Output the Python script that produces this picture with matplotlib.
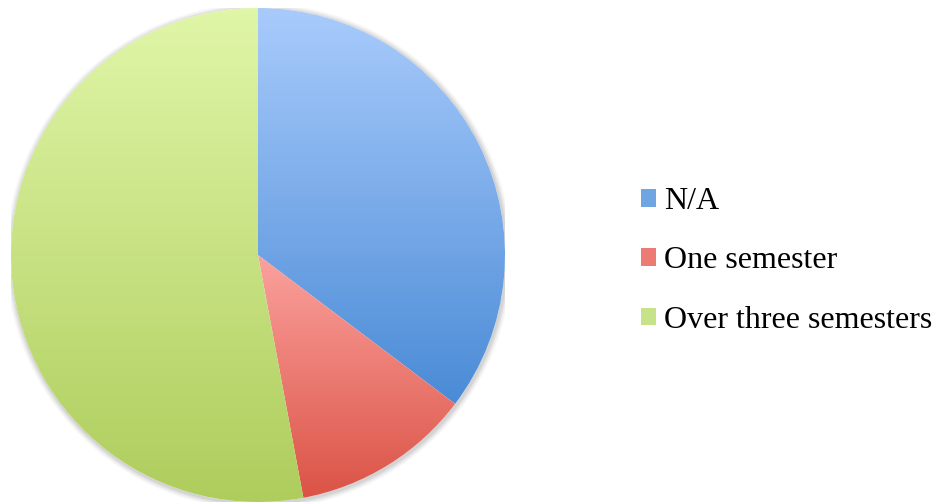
import matplotlib.pyplot as plt
import numpy as np
from matplotlib.colors import LinearSegmentedColormap, to_rgb
from matplotlib.patches import Patch, Circle

labels = ['N/A', 'One semester', 'Over three semesters']
counts = [6, 2, 9]
# top / bottom colours of each slice gradient
top_colors = ['#a9cbfc', '#fba19d', '#e0f6a8']
bottom_colors = ['#4a8bd6', '#db5346', '#aecd5c']
mid_colors = ['#6fa6e2', '#ec7b73', '#c6e38a']

W, H = 946, 503
fig = plt.figure(figsize=(W / 100, H / 100), dpi=100)
cx, cy, r = 258, 255, 247
ax = fig.add_axes([(cx - r) / W, (H - cy - r) / H, 2 * r / W, 2 * r / H])
ax.axis('off')

# soft shadow
for k, a in enumerate([0.06, 0.05, 0.04, 0.03]):
    ax.add_patch(Circle((0.004, -0.006), 1.0 + 0.006 * (k + 1), color='k', alpha=a, lw=0, zorder=0))
ax.add_patch(Circle((0, 0), 1.0, color='white', lw=0, zorder=0.5))

wedges, _ = ax.pie(counts, startangle=90, counterclock=False, radius=1,
                   wedgeprops=dict(linewidth=0), frame=False)

for w, c0, c1 in zip(wedges, top_colors, bottom_colors):
    w.set_facecolor('none')
    verts = w.get_patch_transform().transform(w.get_path().vertices)
    x0, y0 = verts.min(axis=0)
    x1, y1 = verts.max(axis=0)
    cmap = LinearSegmentedColormap.from_list('g', [to_rgb(c1), to_rgb(c0)])
    grad = np.linspace(0, 1, 256).reshape(-1, 1)
    im = ax.imshow(grad, cmap=cmap, origin='lower', aspect='auto',
                   extent=[x0, x1, y0, y1], zorder=1, interpolation='bilinear')
    im.set_clip_path(w)

ax.set_xlim(-1, 1)
ax.set_ylim(-1, 1)

handles = [Patch(facecolor=c, edgecolor='none') for c in mid_colors]
fig.legend(handles, labels, loc='center left', bbox_to_anchor=(641 / W, 1 - 261 / H),
           frameon=False, prop={'family': 'Liberation Serif', 'size': 23},
           handlelength=0.47, handleheight=0.47, handletextpad=0.26, labelspacing=0.95,
           borderpad=0, borderaxespad=0)

fig.savefig('out.png', dpi=100)
